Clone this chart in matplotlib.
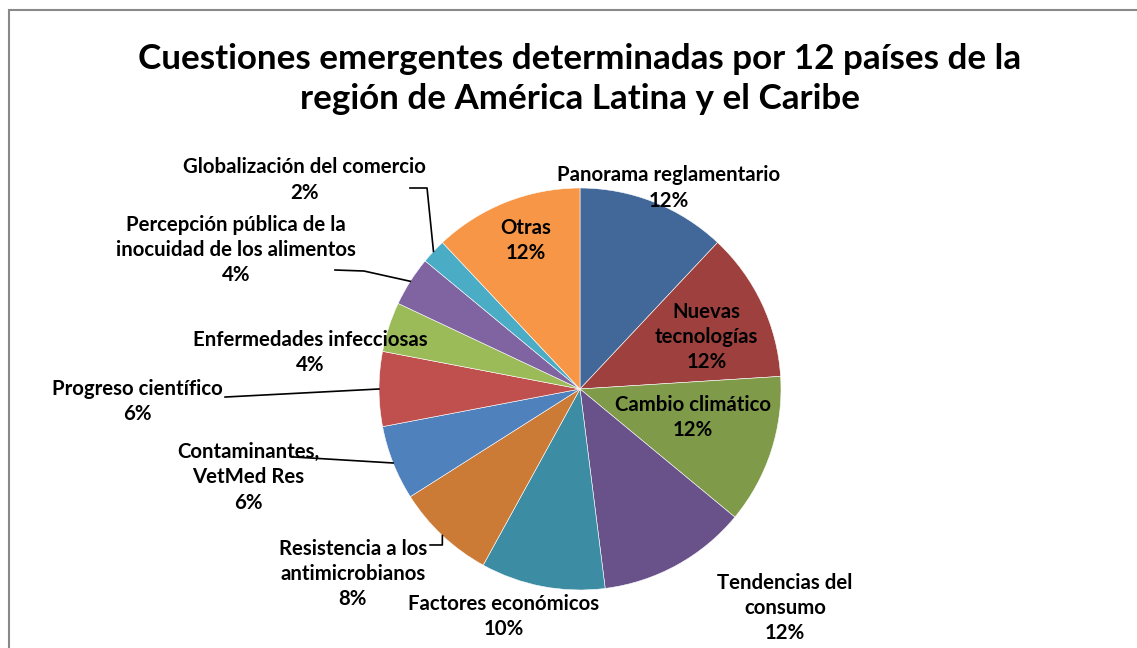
import numpy as np
import matplotlib
matplotlib.use("Agg")
import matplotlib.pyplot as plt
from matplotlib.patches import Rectangle

plt.rcParams['font.family'] = ['Lato', 'DejaVu Sans']

# slices, clockwise from 12 o'clock (counts out of 50 answers)
labels = ['Panorama reglamentario', 'Nuevas\ntecnologías', 'Cambio climático',
          'Tendencias del\nconsumo', 'Factores económicos',
          'Resistencia a los\nantimicrobianos', 'Contaminantes,\nVetMed Res',
          'Progreso científico', 'Enfermedades infecciosas',
          'Percepción pública de la\ninocuidad de los alimentos',
          'Globalización del comercio', 'Otras']
counts = [6, 6, 6, 6, 5, 4, 3, 3, 2, 2, 1, 6]
colors = ['#416899', '#9E413E', '#7F9A48', '#69518A', '#3C8DA3', '#CB7B36',
          '#4F81BD', '#C0504D', '#9BBB59', '#8064A2', '#4BACC6', '#F79646']

# label centres, in pie radii from the centre
label_pos = [(0.44, 1.0), (0.63, 0.26), (0.56, -0.14), (1.02, -1.09),
             (-0.38, -1.13), (-1.13, -0.92), (-1.65, -0.44), (-2.2, -0.06),
             (-1.34, 0.18), (-1.71, 0.69), (-1.37, 1.04), (-0.27, 0.74)]
# leader line bends for the outside labels {slice index: points after the edge}
leaders = {5: [(-0.685, -0.776), (-0.746, -0.776)],
           6: [(-1.428, -0.338)],
           7: [(-1.766, -0.04)],
           9: [(-1.075, 0.587), (-1.219, 0.592)],
           10: [(-0.761, 1.0), (-0.846, 1.0)]}

W, H = 1137, 648
cx, cy, r = 580, 389, 201

fig = plt.figure(figsize=(W / 100, H / 100), dpi=100)
ax = fig.add_axes([0, 0, 1, 1])

wedges, _ = ax.pie(counts, colors=colors, startangle=90, counterclock=False,
                   radius=1, center=(0, 0), frame=True,
                   wedgeprops=dict(edgecolor='white', linewidth=0.4))
ax.set_xlim(-cx / r, (W - cx) / r)
ax.set_ylim(-(H - cy) / r, cy / r)
ax.set_aspect('equal')
ax.axis('off')

total = sum(counts)
for i, (lab, n) in enumerate(zip(labels, counts)):
    txt = f'{lab}\n{round(100 * n / total)}%'
    x, y = label_pos[i]
    ax.text(x, y, txt, ha='center', va='center', fontsize=14.7,
            fontweight='bold', linespacing=1.32, color='black')
    if i in leaders:
        w = wedges[i]
        mid = np.deg2rad((w.theta1 + w.theta2) / 2)
        pts = [(np.cos(mid), np.sin(mid))] + leaders[i]
        xs, ys = zip(*pts)
        ax.plot(xs, ys, color='black', lw=1.2)

fig.text(580 / W, 1 - 79 / H,
         'Cuestiones emergentes determinadas por 12 países de la\n'
         'región de América Latina y el Caribe',
         ha='center', va='center', fontsize=25.2, fontweight='bold',
         linespacing=1.28)

fig.patches.append(Rectangle((9 / W, -0.1), 1.2, 1 - 10 / H + 0.1,
                             transform=fig.transFigure, fill=False,
                             edgecolor='#898989', lw=1.5))

fig.savefig('out.png', dpi=100)
